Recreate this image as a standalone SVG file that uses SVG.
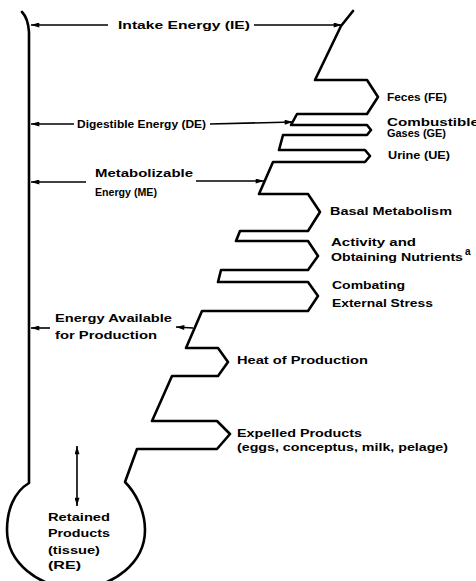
<svg xmlns="http://www.w3.org/2000/svg" width="476" height="581" viewBox="0 0 476 581">
<style>
.ln{fill:none;stroke:#000;stroke-width:2.6;stroke-linejoin:round;stroke-linecap:round}
.ar{fill:none;stroke:#000;stroke-width:1.6}
text{font-family:"Liberation Sans",Arial,sans-serif;font-weight:bold;font-size:11px;fill:#000}
.sm{font-size:10px}
</style>
<defs>
<marker id="ah" viewBox="0 0 10 6" refX="10" refY="3" markerWidth="9" markerHeight="5" markerUnits="userSpaceOnUse" orient="auto-start-reverse">
<path d="M0,0 L10,3 L0,6 z" fill="#000"/>
</marker>
</defs>
<rect width="476" height="581" fill="#fff"/>
<g id="flask">
<path class="ln" d="M353,11 L341,26 L315,80 L367,80 L378,97 L367,114 L297,114 L291,125 L367,125 L371,130 L367,135 L283,135 L279,150 L365,150 L370,156 L365,162 L273,162 L259,194 L308,194 L320,212 L308,231 L240,231 L236,241 L308,241 L318,256 L308,270 L221,270 L218,282 L308,282 L318,296 L308,311 L202,311 L186,348 L218,348 L228,362 L218,376 L172,376 L152,421 L217,421 L230,434 L217,449 L137,449 L125,482 C135,492 145,510 145,530 A69,58 0 0 1 7,530 C7,510 14,492 29,483 L29,32 Q28,18 22,12"/>
</g>
<g id="connectors">
<line class="ar" x1="108" y1="25" x2="31" y2="25" marker-end="url(#ah)"/>
<line class="ar" x1="254" y1="25" x2="342" y2="25" marker-end="url(#ah)"/>
<line class="ar" x1="74" y1="124" x2="31" y2="124" marker-end="url(#ah)"/>
<line class="ar" x1="210" y1="124" x2="293" y2="122" marker-end="url(#ah)"/>
<line class="ar" x1="86" y1="182" x2="31" y2="182" marker-end="url(#ah)"/>
<line class="ar" x1="196" y1="181" x2="264" y2="181" marker-end="url(#ah)"/>
<line class="ar" x1="50" y1="328" x2="31" y2="328" marker-end="url(#ah)"/>
<line class="ar" x1="193" y1="328" x2="176" y2="327" marker-end="url(#ah)"/>
<line class="ar" x1="77" y1="446" x2="77" y2="506" marker-start="url(#ah)" marker-end="url(#ah)"/>
</g>
<g id="label-ie"><text x="118" y="29" textLength="132" lengthAdjust="spacingAndGlyphs">Intake Energy (IE)</text></g>
<g id="label-de"><text x="77" y="128" textLength="129" lengthAdjust="spacingAndGlyphs">Digestible Energy (DE)</text></g>
<g id="label-me">
<text x="95" y="177" textLength="98" lengthAdjust="spacingAndGlyphs">Metabolizable</text>
<text x="95" y="196" textLength="62" lengthAdjust="spacingAndGlyphs">Energy (ME)</text>
</g>
<g id="label-ea">
<text x="55" y="322" textLength="117" lengthAdjust="spacingAndGlyphs">Energy Available</text>
<text x="55" y="339" textLength="102" lengthAdjust="spacingAndGlyphs">for Production</text>
</g>
<g id="label-fe"><text x="387" y="101" textLength="60" lengthAdjust="spacingAndGlyphs">Feces (FE)</text></g>
<g id="label-ge">
<text x="387" y="126" textLength="92" lengthAdjust="spacingAndGlyphs">Combustible</text>
<text x="387" y="137" textLength="59" lengthAdjust="spacingAndGlyphs">Gases (GE)</text>
</g>
<g id="label-ue"><text x="388" y="159" textLength="62" lengthAdjust="spacingAndGlyphs">Urine (UE)</text></g>
<g id="label-bm"><text x="330" y="215" textLength="122" lengthAdjust="spacingAndGlyphs">Basal Metabolism</text></g>
<g id="label-act">
<text x="331" y="246" textLength="85" lengthAdjust="spacingAndGlyphs">Activity and</text>
<text x="331" y="261" textLength="132" lengthAdjust="spacingAndGlyphs">Obtaining Nutrients</text>
<text x="465" y="255" class="sm">a</text>
</g>
<g id="label-stress">
<text x="332" y="289" textLength="73" lengthAdjust="spacingAndGlyphs">Combating</text>
<text x="332" y="307" textLength="101" lengthAdjust="spacingAndGlyphs">External Stress</text>
</g>
<g id="label-heat"><text x="237" y="364" textLength="131" lengthAdjust="spacingAndGlyphs">Heat of Production</text></g>
<g id="label-exp">
<text x="237" y="437" textLength="125" lengthAdjust="spacingAndGlyphs">Expelled Products</text>
<text x="237" y="451" class="sm" textLength="211" lengthAdjust="spacingAndGlyphs">(eggs, conceptus, milk, pelage)</text>
</g>
<g id="label-re">
<text x="48" y="521" textLength="62" lengthAdjust="spacingAndGlyphs">Retained</text>
<text x="48" y="537" textLength="62" lengthAdjust="spacingAndGlyphs">Products</text>
<text x="48" y="554" textLength="52" lengthAdjust="spacingAndGlyphs">(tissue)</text>
<text x="48" y="569" textLength="33" lengthAdjust="spacingAndGlyphs">(RE)</text>
</g>
</svg>
